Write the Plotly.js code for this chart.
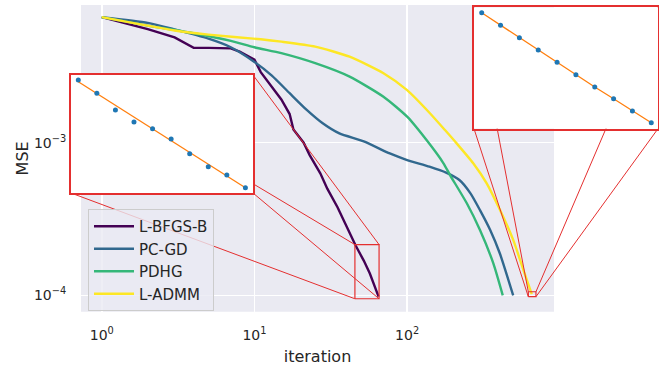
<!DOCTYPE html>
<html>
<head>
<meta charset="utf-8">
<script src="https://cdn.plot.ly/plotly-3.0.1.min.js"></script>
<style>
html,body{margin:0;padding:0;background:#ffffff;}
#chart{width:659px;height:366px;}
</style>
</head>
<body>
<div id="chart"></div>
<script>
// ---------------- data ----------------
const seriesNames = ['L-BFGS-B', 'PC-GD', 'PDHG', 'L-ADMM'];
const seriesColors = ['#440154', '#31688e', '#35b779', '#fde725'];

const lbfgsIter = [1, 2, 3, 4, 5, 6, 7, 8, 9, 10, 11, 13, 15, 17, 18, 21, 23, 27, 30, 35, 40, 46, 52, 57, 65];
const lbfgsMSE  = [6.64e-3, 5.55e-3, 4.89e-3, 4.19e-3, 4.18e-3, 4.17e-3, 4.15e-3, 3.95e-3, 3.72e-3, 3.50e-3,
                   2.90e-3, 2.30e-3, 1.92e-3, 1.54e-3, 1.22e-3, 1.00e-3, 8.3e-4, 6.3e-4, 5.0e-4, 3.78e-4,
                   2.84e-4, 2.12e-4, 1.69e-4, 1.39e-4, 0.98e-4];

const pcgdIter = [1, 2, 3, 5, 7, 10, 13, 17, 22, 28, 36, 52, 77, 100, 140, 180, 220, 260, 300, 350, 405, 495];
const pcgdMSE  = [6.64e-3, 6.10e-3, 5.52e-3, 4.80e-3, 4.22e-3, 3.38e-3, 2.75e-3, 2.11e-3, 1.64e-3, 1.34e-3,
                  1.15e-3, 1.02e-3, 8.5e-4, 7.7e-4, 6.96e-4, 6.36e-4, 5.70e-4, 4.66e-4, 3.62e-4, 2.68e-4,
                  1.88e-4, 1.00e-4];

const pdhgIter = [1, 2, 4, 7, 10, 15, 25, 42, 70, 100, 134, 173, 191, 246, 300, 367, 423];
const pdhgMSE  = [6.64e-3, 5.85e-3, 5.21e-3, 4.65e-3, 4.22e-3, 3.86e-3, 3.32e-3, 2.71e-3, 2.00e-3, 1.48e-3,
                  1.04e-3, 7.33e-4, 6.14e-4, 4.01e-4, 2.68e-4, 1.62e-4, 1.00e-4];

const ladmmIter = [1, 3, 5, 11, 15, 25, 42, 70, 100, 141, 177, 211, 271, 332, 406, 496, 577, 655];
const ladmmMSE  = [6.64e-3, 5.43e-3, 5.10e-3, 4.76e-3, 4.59e-3, 4.26e-3, 3.66e-3, 2.85e-3, 2.21e-3, 1.56e-3,
                   1.21e-3, 9.9e-4, 7.33e-4, 5.42e-4, 3.62e-4, 2.30e-4, 1.47e-4, 1.02e-4];

// zoomed regions (data units of the main axes)
const leftZoomX  = [45.5, 65.5];
const leftZoomY  = [0.95e-4, 2.15e-4];
const rightZoomX = [622, 698];
const rightZoomY = [0.98e-4, 1.056e-4];

// inset contents
const insetLeftIdx  = [1, 2, 3, 4, 5, 6, 7, 8, 9, 10];
const insetLeftPts  = [0.958, 0.845, 0.703, 0.602, 0.545, 0.458, 0.333, 0.223, 0.153, 0.045];
const insetLeftFitX = [1, 10];
const insetLeftFitY = [0.943, 0.045];
const insetRightIdx = [1, 2, 3, 4, 5, 6, 7, 8, 9, 10];
const insetRightPts = [0.955, 0.852, 0.750, 0.648, 0.547, 0.445, 0.343, 0.247, 0.146, 0.049];

// ticks
const xTickVals = [1, 10, 100];
const xTickText = ['10<sup>0</sup>', '10<sup>1</sup>', '10<sup>2</sup>'];
const yTickVals = [1e-4, 1e-3];
const yTickText = ['10<sup>\u22124</sup>', '10<sup>\u22123</sup>'];

// ---------------- geometry ----------------
const W = 659, H = 366;
const mainBox  = {l: 81,  r: 554, t: 5,   b: 311.7};
const leftBox  = {l: 71,  r: 253, t: 75,  b: 193};
const rightBox = {l: 474, r: 658, t: 7.3, b: 128.7};
const xRange = [-0.136, 2.962];
const yRange = [-4.107, -2.098];
const leftInsetXRange  = [0.607, 10.41];
const rightInsetXRange = [0.591, 10.357];
const insetYRange = [0, 1];
const RED = '#e42f2f';
const FONT = 'DejaVu Sans, sans-serif';
const TXT = '#262626';

const xdom = b => [b.l / W, b.r / W];
const ydom = b => [1 - b.b / H, 1 - b.t / H];
const mx = v => mainBox.l + (Math.log10(v) - xRange[0]) / (xRange[1] - xRange[0]) * (mainBox.r - mainBox.l);
const my = v => mainBox.t + (yRange[1] - Math.log10(v)) / (yRange[1] - yRange[0]) * (mainBox.b - mainBox.t);

function connectors(box, zx, zy) {
  const bx0 = mx(zx[0]), bx1 = mx(zx[1]), by0 = my(zy[1]), by1 = my(zy[0]);
  return {
    x: [box.l, bx0, null, box.r, bx1, null, box.l, bx0, null, box.r, bx1],
    y: [box.t, by0, null, box.t, by0, null, box.b, by1, null, box.b, by1]
  };
}

const traces = [];
const iters = [lbfgsIter, pcgdIter, pdhgIter, ladmmIter];
const mses = [lbfgsMSE, pcgdMSE, pdhgMSE, ladmmMSE];
seriesNames.forEach((n, i) => {
  traces.push({
    type: 'scatter', mode: 'lines', name: n, x: iters[i], y: mses[i],
    xaxis: 'x', yaxis: 'y',
    line: {color: seriesColors[i], width: 2.4, shape: i === 0 ? 'linear' : 'spline', smoothing: 0.6},
    hoverinfo: 'skip'
  });
});
// zoom boxes on main axes
[[leftZoomX, leftZoomY], [rightZoomX, rightZoomY]].forEach(([zx, zy]) => {
  traces.push({
    type: 'scatter', mode: 'lines', showlegend: false, xaxis: 'x', yaxis: 'y',
    x: [zx[0], zx[1], zx[1], zx[0], zx[0]], y: [zy[0], zy[0], zy[1], zy[1], zy[0]],
    line: {color: RED, width: 1.2}, hoverinfo: 'skip'
  });
});
// connector lines on a full-figure overlay (pixel units)
[[leftBox, leftZoomX, leftZoomY], [rightBox, rightZoomX, rightZoomY]].forEach(([b, zx, zy]) => {
  const c = connectors(b, zx, zy);
  traces.push({
    type: 'scatter', mode: 'lines', showlegend: false, xaxis: 'x2', yaxis: 'y2',
    x: c.x, y: c.y, line: {color: RED, width: 1}, hoverinfo: 'skip'
  });
});
// insets
function insetTraces(xa, ya, xr, idx, pts, fitX, fitY) {
  return [
    {type: 'scatter', mode: 'lines', showlegend: false, xaxis: xa, yaxis: ya,
     x: [xr[0], xr[1], xr[1], xr[0], xr[0]], y: [insetYRange[0], insetYRange[0], insetYRange[1], insetYRange[1], insetYRange[0]],
     fill: 'toself', fillcolor: '#ffffff', line: {width: 0, color: 'rgba(0,0,0,0)'}, hoverinfo: 'skip'},
    {type: 'scatter', mode: 'lines', showlegend: false, xaxis: xa, yaxis: ya,
     x: fitX, y: fitY, line: {color: '#ff7f0e', width: 1.3}, hoverinfo: 'skip'},
    {type: 'scatter', mode: 'markers', showlegend: false, xaxis: xa, yaxis: ya,
     x: idx, y: pts, marker: {color: '#1f77b4', size: 5}, hoverinfo: 'skip'}
  ];
}
traces.push(...insetTraces('x3', 'y3', leftInsetXRange, insetLeftIdx, insetLeftPts, insetLeftFitX, insetLeftFitY));
traces.push(...insetTraces('x4', 'y4', rightInsetXRange, insetRightIdx, insetRightPts, insetRightIdx, insetRightPts));

const insetAxis = (dom, anchor, range) => ({
  domain: dom, anchor: anchor, range: range, showgrid: false, zeroline: false,
  showticklabels: false, ticks: '', showline: true, mirror: true, linecolor: RED, linewidth: 2
});

const layout = {
  width: W, height: H,
  margin: {l: 0, r: 0, t: 0, b: 0},
  paper_bgcolor: '#ffffff',
  plot_bgcolor: 'rgba(0,0,0,0)',
  font: {family: FONT, color: TXT},
  showlegend: true,
  xaxis: {
    type: 'log', domain: xdom(mainBox), anchor: 'y', range: xRange,
    tickmode: 'array', tickvals: xTickVals, ticktext: xTickText,
    tickfont: {size: 14, color: TXT, family: FONT},
    ticks: 'outside', ticklen: 10, tickcolor: 'rgba(0,0,0,0)',
    showgrid: true, gridcolor: '#ffffff', gridwidth: 1.5, zeroline: false, showline: false,
    title: {text: 'iteration', font: {size: 16, color: TXT, family: FONT}}
  },
  yaxis: {
    type: 'log', domain: ydom(mainBox), anchor: 'x', range: yRange,
    tickmode: 'array', tickvals: yTickVals, ticktext: yTickText,
    tickfont: {size: 14, color: TXT, family: FONT},
    ticks: 'outside', ticklen: 11, tickcolor: 'rgba(0,0,0,0)',
    showgrid: true, gridcolor: '#ffffff', gridwidth: 1.5, zeroline: false, showline: false,
    title: {text: 'MSE', font: {size: 16, color: TXT, family: FONT}}
  },
  xaxis2: {domain: [0, 1], anchor: 'y2', range: [0, W], visible: false},
  yaxis2: {domain: [0, 1], anchor: 'x2', range: [H, 0], visible: false},
  xaxis3: insetAxis(xdom(leftBox), 'y3', leftInsetXRange),
  yaxis3: insetAxis(ydom(leftBox), 'x3', insetYRange),
  xaxis4: insetAxis(xdom(rightBox), 'y4', rightInsetXRange),
  yaxis4: insetAxis(ydom(rightBox), 'x4', insetYRange),
  shapes: [{
    type: 'rect', xref: 'paper', yref: 'paper', layer: 'below',
    x0: xdom(mainBox)[0], x1: xdom(mainBox)[1], y0: ydom(mainBox)[0], y1: ydom(mainBox)[1],
    fillcolor: '#eaeaf2', line: {width: 0}
  }],
  legend: {
    x: 88 / W, y: 1 - 209 / H, xanchor: 'left', yanchor: 'top',
    bgcolor: 'rgba(234,234,242,0.8)', bordercolor: '#cccccc', borderwidth: 1,
    font: {size: 15, color: TXT, family: FONT}, itemwidth: 40, traceorder: 'normal'
  }
};

Plotly.newPlot('chart', traces, layout, {staticPlot: true, displayModeBar: false});
</script>
</body>
</html>
